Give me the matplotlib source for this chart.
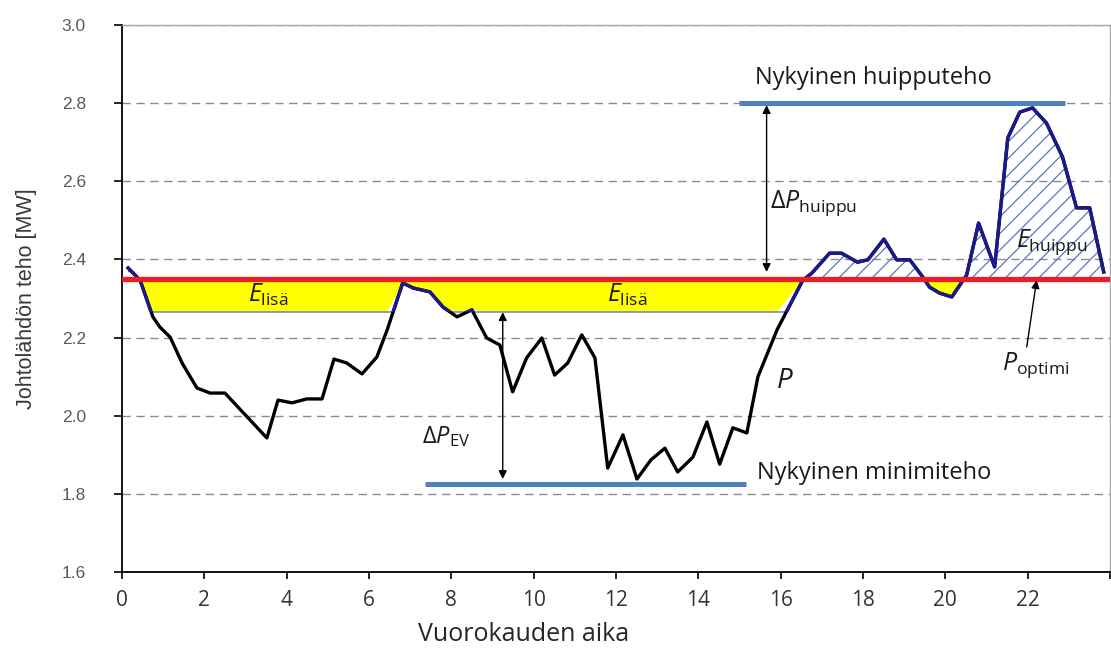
import numpy as np
import matplotlib
matplotlib.use("Agg")
import matplotlib.pyplot as plt
from matplotlib.patches import Rectangle, Polygon

plt.rcParams['mathtext.fontset'] = 'custom'
plt.rcParams['mathtext.rm'] = 'Open Sans'
plt.rcParams['mathtext.it'] = 'Open Sans:italic'
plt.rcParams['hatch.linewidth'] = 0.9

# ---- data: feeder power over the day ----
hours = [0.15, 0.44, 0.75, 0.92, 1.17, 1.46, 1.82, 2.14, 2.50, 3.52, 3.79, 4.13,
         4.49, 4.86, 5.15, 5.46, 5.83, 6.19, 6.44, 6.82, 7.07, 7.48, 7.80, 8.14,
         8.50, 8.86, 9.18, 9.49, 9.83, 10.20, 10.51, 10.83, 11.17, 11.49, 11.80,
         12.17, 12.51, 12.85, 13.19, 13.50, 13.87, 14.21, 14.52, 14.84, 15.18,
         15.45, 15.91, 16.54, 16.76, 17.19, 17.48, 17.87, 18.12, 18.51, 18.82,
         19.14, 19.42, 19.62, 19.86, 20.16, 20.52, 20.81, 21.20, 21.52, 21.81,
         22.12, 22.46, 22.85, 23.19, 23.51, 23.85]
power = [2.378, 2.347, 2.253, 2.227, 2.201, 2.135, 2.071, 2.058, 2.058, 1.943, 2.040, 2.033,
         2.043, 2.043, 2.145, 2.135, 2.107, 2.150, 2.219, 2.340, 2.327, 2.317, 2.278, 2.253,
         2.271, 2.199, 2.181, 2.061, 2.148, 2.199, 2.104, 2.135, 2.207, 2.148, 1.866,
         1.951, 1.838, 1.887, 1.917, 1.856, 1.894, 1.984, 1.876, 1.969, 1.956,
         2.100, 2.219, 2.347, 2.365, 2.416, 2.416, 2.393, 2.399, 2.452, 2.399,
         2.399, 2.360, 2.329, 2.314, 2.304, 2.360, 2.493, 2.381, 2.711, 2.777,
         2.788, 2.749, 2.662, 2.532, 2.532, 2.368]

p_optimi = 2.35
p_lisa_ala = 2.265
p_huippu = 2.80
p_minimi = 1.825
huippu_span = (15.0, 22.9)
minimi_span = (7.36, 15.15)

x = np.array(hours)
P = np.array(power)

fig = plt.figure(figsize=(11.11, 6.55), dpi=100)
ax = fig.add_axes([0.1098, 0.1267, 0.8892, 0.8351])
ax.set_xlim(0, 24)
ax.set_ylim(1.6, 3.0)

# grid
ax.set_axisbelow(True)
ax.yaxis.grid(True, color='#8c8c8c', linestyle=(0, (6, 4)), linewidth=1.0)

# yellow energy area (below optimum)
ax.fill_between(x, np.maximum(P, p_lisa_ala), p_optimi, where=P < p_optimi,
                interpolate=True, facecolor='#ffff00', edgecolor='none', zorder=2)
# hatched energy area (above optimum)
ax.fill_between(x, p_optimi, P, where=P > p_optimi, interpolate=True,
                facecolor='none', edgecolor='#5577b8', hatch='//', linewidth=0, zorder=2)

# thin lower edge of the yellow area, only where the curve lies below it
ln_thin, = ax.plot([0, 24], [p_lisa_ala, p_lisa_ala], color='#6b7fd0', lw=1.1, zorder=3)
above = Polygon([(x[0], 3.0)] + list(zip(x, P)) + [(x[-1], 3.0)], closed=True,
                transform=ax.transData)
ln_thin.set_clip_path(above)

# load curve: black, navy above the thin line
ax.plot(x, P, color='black', lw=2.4, zorder=4)
ln_navy, = ax.plot(x, P, color='#1a1a8c', lw=2.4, zorder=5)
ln_navy.set_clip_path(Rectangle((0, p_lisa_ala), 24, 1.0, transform=ax.transData))

# optimum line
ax.axhline(p_optimi, color='#ea1c24', lw=3.8, zorder=6)

# current peak and minimum
ax.plot(huippu_span, [p_huippu] * 2, color='#4f81bd', lw=3.6, zorder=6, solid_capstyle='butt')
ax.plot(minimi_span, [p_minimi] * 2, color='#4f81bd', lw=3.6, zorder=6, solid_capstyle='butt')

# double arrows
arw = dict(arrowstyle='<|-|>', color='black', lw=1.0, mutation_scale=12, shrinkA=0, shrinkB=0)
ax.annotate('', xy=(15.66, 2.795), xytext=(15.66, 2.368), arrowprops=arw, zorder=7)
ax.annotate('', xy=(9.25, p_lisa_ala), xytext=(9.25, 1.838), arrowprops=arw, zorder=7)
ax.annotate('', xy=(22.22, 2.347), xytext=(21.98, 2.176),
            arrowprops=dict(arrowstyle='-|>', color='black', lw=1.0, mutation_scale=12,
                            shrinkA=0, shrinkB=0), zorder=7)

# texts
tk = dict(fontfamily='Open Sans', color='#1a1a1a', zorder=8)
ax.text(15.37, 2.864, 'Nykyinen huipputeho', fontsize=17, ha='left', va='center', **tk)
ax.text(15.42, 1.853, 'Nykyinen minimiteho', fontsize=17, ha='left', va='center', **tk)
ax.text(15.74, 2.532, r'$\Delta \mathit{P}_{\mathrm{huippu}}$', fontsize=18, ha='left', va='baseline', **tk)
ax.text(7.29, 1.930, r'$\Delta \mathit{P}_{\mathrm{EV}}$', fontsize=17, ha='left', va='baseline', **tk)
ax.text(3.06, 2.291, r'$\mathit{E}_{\mathrm{lisä}}$', fontsize=18, ha='left', va='baseline', **tk)
ax.text(11.78, 2.291, r'$\mathit{E}_{\mathrm{lisä}}$', fontsize=18, ha='left', va='baseline', **tk)
ax.text(21.73, 2.432, r'$\mathit{E}_{\mathrm{huippu}}$', fontsize=18, ha='left', va='baseline', **tk)
ax.text(15.9, 2.071, r'$\mathit{P}$', fontsize=20, ha='left', va='baseline', **tk)
ax.text(21.37, 2.117, r'$\mathit{P}_{\mathrm{optimi}}$', fontsize=18, ha='left', va='baseline', **tk)

# axes, ticks
ax.set_xticks(np.arange(0, 25, 2))
ax.set_xticklabels([str(v) for v in range(0, 24, 2)] + [''], fontfamily='Open Sans',
                   fontsize=15, color='#333333')
ax.set_yticks(np.arange(1.6, 3.01, 0.2))
ax.set_yticklabels(['%.1f' % v for v in np.arange(1.6, 3.01, 0.2)],
                   fontfamily='Liberation Sans', fontsize=12.5, color='#595959')
ax.tick_params(axis='x', direction='out', length=5, width=1.2, colors='black',
               pad=8, labelcolor='#333333')
ax.tick_params(axis='y', direction='out', length=6, width=1.2, colors='black',
               pad=20, labelcolor='#595959')
for s in ('left', 'bottom'):
    ax.spines[s].set_color('black')
    ax.spines[s].set_linewidth(1.3)
for s in ('top', 'right'):
    ax.spines[s].set_color('#a6a6a6')
    ax.spines[s].set_linewidth(1.0)

ax.set_xlabel('Vuorokauden aika', fontfamily='Open Sans', fontsize=18, color='#262626')
ax.xaxis.set_label_coords(0.406, -0.091)
ax.set_ylabel('Johtolähdön teho [MW]', fontfamily='Liberation Sans', fontsize=15.5,
              color='#3a3a3a')
ax.yaxis.set_label_coords(-0.086, 0.5)

fig.savefig('out.png', dpi=100)
